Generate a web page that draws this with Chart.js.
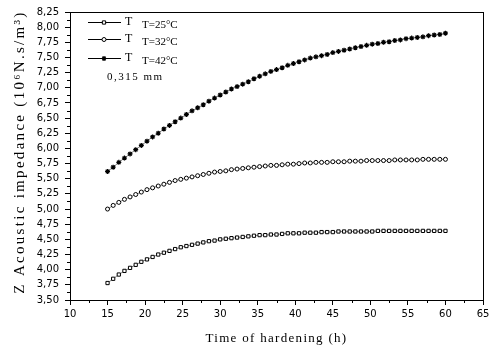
<!DOCTYPE html>
<html>
<head>
<meta charset="utf-8">
<script src="https://cdn.jsdelivr.net/npm/chart.js@4.4.1/dist/chart.umd.min.js"></script>
<style>
  body { margin: 0; background: #fff; }
  #wrap { width: 495px; height: 354px; }
</style>
</head>
<body>
<div id="wrap"><canvas id="grafico" width="495" height="354"></canvas></div>
<script>
// Tempos de endurecimento (h)
const tempos = [15, 15.75, 16.5, 17.25, 18, 18.75, 19.5, 20.25, 21, 21.75, 22.5, 23.25, 24, 24.75, 25.5, 26.25, 27, 27.75, 28.5, 29.25,
    30, 30.75, 31.5, 32.25, 33, 33.75, 34.5, 35.25, 36, 36.75, 37.5, 38.25, 39, 39.75, 40.5, 41.25, 42, 42.75, 43.5, 44.25,
    45, 45.75, 46.5, 47.25, 48, 48.75, 49.5, 50.25, 51, 51.75, 52.5, 53.25, 54, 54.75, 55.5, 56.25, 57, 57.75, 58.5, 59.25, 60];

// Impedância acústica (10^6 N.s/m^3)
const t25 = [3.78, 3.85, 3.92, 3.98, 4.03, 4.08, 4.13, 4.17, 4.21, 4.25, 4.28, 4.31, 4.34, 4.37, 4.39, 4.41, 4.43, 4.45, 4.47, 4.48,
    4.50, 4.51, 4.52, 4.53, 4.54, 4.55, 4.56, 4.57, 4.57, 4.58, 4.58, 4.59, 4.60, 4.60, 4.60, 4.61, 4.61, 4.61, 4.62, 4.62,
    4.62, 4.63, 4.63, 4.63, 4.63, 4.63, 4.63, 4.63, 4.64, 4.64, 4.64, 4.64, 4.64, 4.64, 4.64, 4.64, 4.64, 4.64, 4.64, 4.64, 4.64];
const t32 = [5.00, 5.06, 5.11, 5.16, 5.20, 5.24, 5.28, 5.32, 5.35, 5.38, 5.41, 5.44, 5.47, 5.49, 5.51, 5.53, 5.55, 5.57, 5.59, 5.61,
    5.62, 5.63, 5.65, 5.66, 5.67, 5.68, 5.69, 5.70, 5.71, 5.72, 5.72, 5.73, 5.74, 5.74, 5.75, 5.76, 5.76, 5.77, 5.77, 5.77,
    5.78, 5.78, 5.78, 5.79, 5.79, 5.79, 5.80, 5.80, 5.80, 5.80, 5.80, 5.81, 5.81, 5.81, 5.81, 5.81, 5.82, 5.82, 5.82, 5.82, 5.82];
const t42 = [5.62, 5.69, 5.77, 5.84, 5.91, 5.98, 6.05, 6.12, 6.19, 6.25, 6.32, 6.38, 6.44, 6.50, 6.56, 6.62, 6.67, 6.72, 6.78, 6.83,
    6.88, 6.93, 6.98, 7.02, 7.06, 7.10, 7.15, 7.19, 7.23, 7.27, 7.30, 7.33, 7.37, 7.40, 7.43, 7.46, 7.49, 7.51, 7.53, 7.55,
    7.58, 7.60, 7.62, 7.64, 7.66, 7.68, 7.70, 7.72, 7.73, 7.75, 7.76, 7.78, 7.79, 7.81, 7.82, 7.83, 7.84, 7.86, 7.87, 7.88, 7.90];

const rotulosLegenda = ["T=25°C", "T=32°C", "T=42°C"];
const espessura = "0,315 mm";

function pontos(ys) {
    return tempos.map((t, i) => ({ x: t, y: ys[i] }));
}

// Plugin: moldura, ticks menores, títulos e legenda
const extras = {
    id: 'extras',
    afterDraw(chart) {
        const ctx = chart.ctx;
        const a = chart.chartArea;
        const xs = chart.scales.x, ys = chart.scales.y;
        ctx.save();
        ctx.strokeStyle = '#000';
        ctx.lineWidth = 1;
        // moldura
        ctx.strokeRect(Math.round(a.left) + 0.5, Math.round(a.top) + 0.5, Math.round(a.right - a.left), Math.round(a.bottom - a.top));
        // ticks menores
        ctx.beginPath();
        for (let v = 12.5; v < 65; v += 5) {
            const px = Math.round(xs.getPixelForValue(v)) + 0.5;
            ctx.moveTo(px, a.bottom); ctx.lineTo(px, a.bottom + 3);
        }
        for (let v = 3.625; v < 8.25; v += 0.25) {
            const py = Math.round(ys.getPixelForValue(v)) + 0.5;
            ctx.moveTo(a.left, py); ctx.lineTo(a.left - 3, py);
        }
        ctx.stroke();

        // títulos dos eixos
        ctx.fillStyle = '#000';
        ctx.font = '13px "Liberation Serif"';
        ctx.letterSpacing = '1.3px';
        ctx.textAlign = 'center';
        ctx.textBaseline = 'middle';
        ctx.fillText('Time of hardening (h)', (a.left + a.right) / 2, 339);
        ctx.save();
        ctx.translate(20, 152);
        ctx.rotate(-Math.PI / 2);
        ctx.font = '15px "Liberation Serif"';
        ctx.letterSpacing = '2.3px';
        ctx.fillText('Z Acoustic impedance (10\u2076N.s/m\u00b3)', 0, 0);
        ctx.restore();

        // legenda
        const linhas = [22, 39, 58];
        chart.data.datasets.forEach((ds, i) => {
            const y = linhas[i] + 0.5;
            ctx.strokeStyle = '#000';
            ctx.lineWidth = 1;
            ctx.beginPath();
            ctx.moveTo(88, y); ctx.lineTo(121, y);
            ctx.stroke();
            ctx.fillStyle = ds.pointBackgroundColor;
            ctx.lineWidth = ds.pointBorderWidth;
            Chart.helpers.drawPoint(ctx, {
                pointStyle: ds.pointStyle, radius: ds.pointRadius, borderWidth: ds.pointBorderWidth, rotation: 0
            }, 104, y);
            ctx.letterSpacing = '0px';
            ctx.fillStyle = '#000';
            ctx.textAlign = 'left';
            ctx.font = '12px "Liberation Serif"';
            ctx.fillText('T', 125, linhas[i]);
            ctx.font = '11px "Liberation Serif"';
            ctx.fillText(rotulosLegenda[i], 142, linhas[i] + 3);
        });
        ctx.font = '11px "Liberation Serif"';
        ctx.letterSpacing = '1.5px';
        ctx.fillText(espessura, 107, 77);
        ctx.restore();
    }
};

const fonteTicks = { family: '"DejaVu Sans"', size: 10 };

new Chart(document.getElementById("grafico"), {
    type: 'line',
    data: {
        datasets: [
            {
                label: rotulosLegenda[0],
                data: pontos(t25),
                borderColor: '#000', borderWidth: 0.5,
                pointStyle: 'rect', pointRadius: 2.3, pointBorderWidth: 1,
                pointBackgroundColor: '#fff', pointBorderColor: '#000'
            },
            {
                label: rotulosLegenda[1],
                data: pontos(t32),
                borderColor: '#000', borderWidth: 0.5,
                pointStyle: 'circle', pointRadius: 2, pointBorderWidth: 1,
                pointBackgroundColor: '#fff', pointBorderColor: '#000'
            },
            {
                label: rotulosLegenda[2],
                data: pontos(t42),
                borderColor: '#000', borderWidth: 0.5,
                pointStyle: 'star', pointRadius: 2.5, pointBorderWidth: 1.2,
                pointBackgroundColor: '#000', pointBorderColor: '#000'
            }
        ]
    },
    options: {
        responsive: false,
        animation: false,
        layout: { padding: { top: 10, right: 12, left: 0, bottom: 0 } },
        plugins: { legend: { display: false }, tooltip: { enabled: false } },
        scales: {
            x: {
                type: 'linear', min: 10, max: 65,
                afterFit(s) { s.height = 54; },
                ticks: { stepSize: 5, color: '#000', font: fonteTicks, padding: 3, maxRotation: 0 },
                grid: { drawOnChartArea: false, tickLength: 5, color: '#000' },
                border: { color: '#000' }
            },
            y: {
                min: 3.5, max: 8.25,
                afterFit(s) { s.width = 70; },
                ticks: {
                    stepSize: 0.25, color: '#000', font: fonteTicks, padding: 6,
                    callback: v => v.toFixed(2).replace('.', ',')
                },
                grid: { drawOnChartArea: false, tickLength: 5, color: '#000' },
                border: { color: '#000' }
            }
        }
    },
    plugins: [extras]
});
</script>
</body>
</html>
